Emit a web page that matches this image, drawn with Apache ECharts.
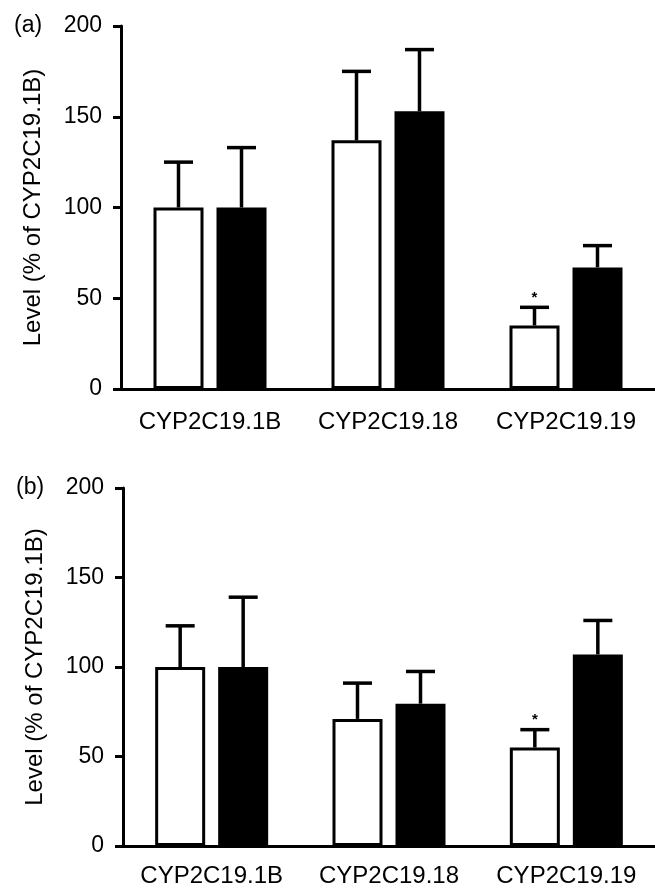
<!DOCTYPE html>
<html>
<head>
<meta charset="utf-8">
<script src="https://cdn.jsdelivr.net/npm/echarts@6/dist/echarts.min.js"></script>
<style>
  html, body { margin: 0; padding: 0; background: #fff; }
  #chart { width: 655px; height: 888px; }
</style>
</head>
<body>
<div id="chart"></div>
<script>
// categories
var categories = ['CYP2C19.1B', 'CYP2C19.18', 'CYP2C19.19'];
var yTicks = [0, 50, 100, 150, 200];

// panel (a): means and SD (upper error only)
var aWhite = [100, 137, 35];
var aWhiteSd = [25, 38, 10];
var aBlack = [100, 153, 67];
var aBlackSd = [33, 34, 12];
var aSig = ['', '', '*'];

// panel (b)
var bWhite = [100, 71, 55];
var bWhiteSd = [23, 20, 10];
var bBlack = [100, 79.5, 107];
var bBlackSd = [39, 18, 19];
var bSig = ['', '', '*'];

var FONT = '"Liberation Sans", Arial, sans-serif';
var BAR_W = 50;
var OFFSET = 31.5; // half distance between white and black bar centres

function errData(means, sds) {
    return means.map(function (m, i) { return [i, m, sds[i]]; });
}

function errRender(offset, sig) {
    return function (params, api) {
        var i = api.value(0), m = api.value(1), sd = api.value(2);
        var p0 = api.coord([i, m]);
        var p1 = api.coord([i, m + sd]);
        var x = p0[0] + offset;
        var st = { stroke: '#000', lineWidth: 3.5 };
        var children = [
            { type: 'line', shape: { x1: x, y1: p0[1], x2: x, y2: p1[1] }, style: st },
            { type: 'line', shape: { x1: x - 14.5, y1: p1[1], x2: x + 14.5, y2: p1[1] }, style: st }
        ];
        var star = sig ? sig[params.dataIndex] : '';
        if (star) {
            children.push({
                type: 'text',
                style: { text: star, x: x, y: p1[1] - 2, fill: '#000', font: 'bold 15px ' + FONT,
                    align: 'center', verticalAlign: 'bottom' }
            });
        }
        return { type: 'group', children: children };
    };
}

function xAxisOf(idx, margin) {
    return {
        type: 'category', gridIndex: idx, data: categories,
        axisLine: { lineStyle: { color: '#000', width: 3 } },
        axisTick: { alignWithLabel: true, length: 8, lineStyle: { color: '#000', width: 3 } },
        axisLabel: { color: '#000', fontSize: 24, fontFamily: FONT, margin: margin, interval: 0 }
    };
}

function yAxisOf(idx) {
    return {
        type: 'value', gridIndex: idx, min: yTicks[0], max: yTicks[yTicks.length - 1], interval: 50,
        name: 'Level (% of CYP2C19.1B)', nameLocation: 'middle', nameGap: 76,
        nameTextStyle: { color: '#000', fontSize: 24, fontFamily: FONT },
        splitLine: { show: false },
        axisLine: { show: true, lineStyle: { color: '#000', width: 3 } },
        axisTick: { show: true, length: 8, lineStyle: { color: '#000', width: 3 } },
        axisLabel: { color: '#000', fontSize: 23, fontFamily: FONT, margin: 19 }
    };
}

function barSeries(idx, data, fill) {
    return {
        type: 'bar', xAxisIndex: idx, yAxisIndex: idx, data: data,
        barWidth: BAR_W, barGap: '26%',
        itemStyle: { color: fill, borderColor: '#000', borderWidth: 3 },
        z: 2
    };
}

function errSeries(idx, means, sds, sig, offset) {
    return {
        type: 'custom', xAxisIndex: idx, yAxisIndex: idx,
        data: errData(means, sds),
        renderItem: errRender(offset, sig),
        z: 3
    };
}

var myChart = echarts.init(document.getElementById('chart'));
myChart.setOption({
    animation: false,
    backgroundColor: '#fff',
    title: [
        { text: '(a)', left: 9, top: 9, textStyle: { color: '#000', fontSize: 23, fontWeight: 'normal', fontFamily: FONT } },
        { text: '(b)', left: 11, top: 471, textStyle: { color: '#000', fontSize: 23, fontWeight: 'normal', fontFamily: FONT } }
    ],
    grid: [
        { left: 121, top: 26, width: 535, height: 363 },
        { left: 123, top: 488, width: 536, height: 359 }
    ],
    xAxis: [xAxisOf(0, 21), xAxisOf(1, 18)],
    yAxis: [yAxisOf(0), yAxisOf(1)],
    series: [
        barSeries(0, aWhite, '#fff'),
        barSeries(0, aBlack, '#000'),
        errSeries(0, aWhite, aWhiteSd, aSig, -OFFSET),
        errSeries(0, aBlack, aBlackSd, null, OFFSET),
        barSeries(1, bWhite, '#fff'),
        barSeries(1, bBlack, '#000'),
        errSeries(1, bWhite, bWhiteSd, bSig, -OFFSET),
        errSeries(1, bBlack, bBlackSd, null, OFFSET)
    ]
});
</script>
</body>
</html>
